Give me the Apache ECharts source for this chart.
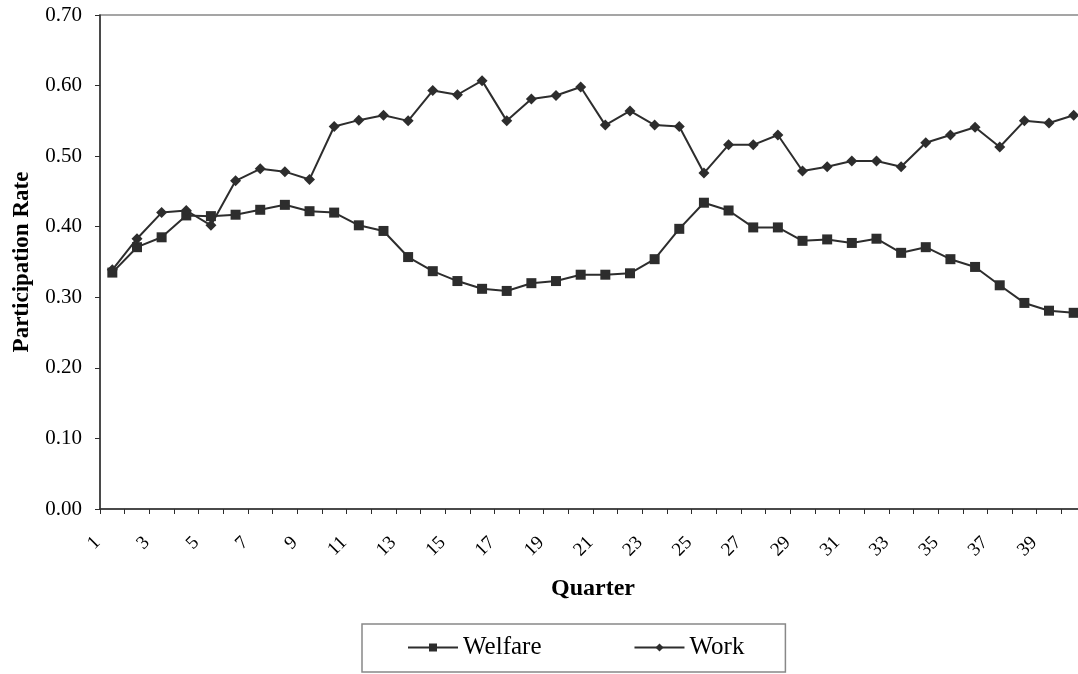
<!DOCTYPE html>
<html>
<head>
<meta charset="utf-8">
<script src="https://cdn.jsdelivr.net/npm/echarts@6/dist/echarts.min.js"></script>
<style>
html,body{margin:0;padding:0;background:#fff;overflow:hidden;}
#chart{width:1092px;height:674px;}
</style>
</head>
<body>
<div id="chart"></div>
<script>
var quarters = [];
for (var q = 1; q <= 40; q++) quarters.push(String(q));

var welfare = [0.335,0.371,0.385,0.416,0.415,0.417,0.424,0.431,0.422,0.420,
               0.402,0.394,0.357,0.337,0.323,0.312,0.309,0.320,0.323,0.332,
               0.332,0.334,0.354,0.397,0.434,0.423,0.399,0.399,0.380,0.382,
               0.377,0.383,0.363,0.371,0.354,0.343,0.317,0.292,0.281,0.278];

var work = [0.339,0.383,0.420,0.423,0.402,0.465,0.482,0.478,0.467,0.542,
            0.551,0.558,0.550,0.593,0.587,0.607,0.550,0.581,0.586,0.598,
            0.544,0.564,0.544,0.542,0.476,0.516,0.516,0.530,0.479,0.485,
            0.493,0.493,0.485,0.519,0.530,0.541,0.513,0.550,0.547,0.558];

var FONT = 'Liberation Serif';
var INK = '#2d2d2d';

var chart = echarts.init(document.getElementById('chart'), null, {renderer: 'canvas'});
chart.setOption({
  animation: false,
  backgroundColor: '#ffffff',
  grid: {
    left: 100, top: 15, width: 986, bottom: 165,
    show: true, borderColor: '#888888', borderWidth: 1.5, backgroundColor: 'transparent'
  },
  xAxis: {
    type: 'category',
    data: quarters,
    boundaryGap: true,
    name: 'Quarter',
    nameLocation: 'middle',
    nameGap: 68,
    nameTextStyle: {fontFamily: FONT, fontSize: 24, fontWeight: 'bold', color: '#000'},
    axisLine: {lineStyle: {color: INK, width: 1.5}},
    axisTick: {show: true, interval: 0, length: 5, lineStyle: {color: INK, width: 1}},
    axisLabel: {
      interval: 1, rotate: 45, margin: 16, padding: [0, 21, 0, 0],
      fontFamily: FONT, fontSize: 19, color: '#000'
    },
    splitLine: {show: false}
  },
  yAxis: {
    type: 'value',
    min: 0, max: 0.7, interval: 0.1,
    name: 'Participation Rate',
    nameLocation: 'middle',
    nameGap: 66,
    nameTextStyle: {fontFamily: FONT, fontSize: 23, fontWeight: 'bold', color: '#000'},
    axisLine: {show: true, lineStyle: {color: INK, width: 1.5}},
    axisTick: {show: true, length: 5, lineStyle: {color: INK, width: 1}},
    axisLabel: {
      margin: 18, fontFamily: FONT, fontSize: 21, color: '#000',
      formatter: function (v) { return v.toFixed(2); }
    },
    splitLine: {show: false}
  },
  legend: {
    left: 362, top: 624,
    orient: 'horizontal',
    padding: [11, 41, 12, 45],
    borderColor: '#888888', borderWidth: 1.5,
    itemWidth: 50, itemHeight: 10, itemGap: 92,
    textStyle: {fontFamily: FONT, fontSize: 25, color: '#000'},
    data: ['Welfare', 'Work']
  },
  series: [
    {
      name: 'Welfare', type: 'line', data: welfare,
      symbol: 'rect', symbolSize: 10,
      itemStyle: {color: INK},
      lineStyle: {color: INK, width: 2}
    },
    {
      name: 'Work', type: 'line', data: work,
      symbol: 'diamond', symbolSize: 11,
      itemStyle: {color: INK},
      lineStyle: {color: INK, width: 2}
    }
  ]
});
</script>
</body>
</html>
